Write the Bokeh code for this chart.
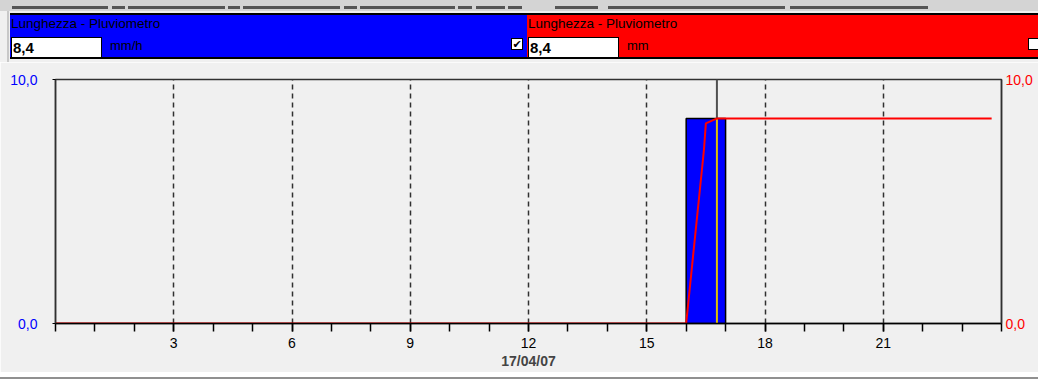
from bokeh.plotting import figure
from bokeh.layouts import column
from bokeh.models import Range1d, LinearAxis, FixedTicker, Div
from bokeh.embed import file_html
from bokeh.resources import INLINE

# ---------------- data ----------------
hour_start = [16.0]
hour_end = [17.0]
rain_rate = [8.4]  # mm/h

cum_time = [0.0, 16.0, 16.45, 16.50, 16.77, 23.75]
cum_rain = [0.0, 0.0, 7.1, 8.2, 8.4, 8.4]  # mm

cursor_time = [16.78]
cursor_value = [8.4]

x_major = [3, 6, 9, 12, 15, 18, 21]
x_minor = list(range(0, 25))
y_ticks = [0, 10]
y_labels = {0: "0,0", 10: "10,0"}
date_label = "17/04/07"

header_title = "Lunghezza - Pluviometro"
header_value = "8,4"
left_unit = "mm/h"
right_unit = "mm"

BG = "#f0f0f0"
FONT = "Liberation Sans"
W = 1038


# ---------------- header (HTML) ----------------
def panel(left, width, color, unit, checked):
    check = "&#10004;" if checked else ""
    return f"""
<div style="position:absolute;left:{left}px;top:13px;width:{width}px;height:46px;background:{color};
 border-top:2px solid #000;border-bottom:2px solid #000;overflow:hidden;">
  <div style="position:absolute;left:1px;top:1px;font:13.5px '{FONT}';color:#000;white-space:nowrap;">{header_title}</div>
  <div style="position:absolute;left:1px;top:22px;width:88px;height:19px;background:#fff;border:1px solid #000;
   font:bold 15px '{FONT}';color:#000;line-height:19px;padding-left:1px;box-sizing:content-box;">{header_value}</div>
  <div style="position:absolute;left:100px;top:23px;font:13px '{FONT}';color:#000;">{unit}</div>
  <div style="position:absolute;left:{width - 16 if checked else 501}px;top:23px;width:12px;height:12px;background:#fff;border:1px solid #000;
   font:11px 'DejaVu Sans';color:#000;line-height:12px;text-align:center;">{check}</div>
</div>"""


tabs = "".join(
    f'<div style="position:absolute;left:{a}px;top:6px;width:{b - a}px;height:3px;background:#555;"></div>'
    for a, b in [(12, 108), (112, 125), (128, 225), (228, 240), (243, 340), (344, 357), (360, 455),
                 (458, 472), (476, 505), (508, 522), (555, 598), (608, 785), (790, 928)]
)
header_html = f"""
<div style="position:relative;width:{W}px;height:62px;background:{BG};overflow:hidden;">
  <div style="position:absolute;left:0;top:0;width:{W}px;height:11px;background:#d4d4d4;"></div>
  {tabs}
  <div style="position:absolute;left:7px;top:11px;width:2px;height:51px;background:#c8c8c8;"></div>
  {panel(10, 517, "#0000ff", left_unit, True)}
  {panel(527, 520, "#ff0000", right_unit, False)}
</div>"""
h = Div(text=header_html, width=W, height=62, margin=0)

footer = Div(text=f'<div style="width:{W}px;height:7px;background:#b8b8b8;border-top:2px solid #909090;box-sizing:border-box;"></div>',
             width=W, height=7, margin=0)

# ---------------- main chart ----------------
p = figure(width=W, height=310, x_range=Range1d(0, 24), y_range=Range1d(0, 10),
           output_backend="svg", toolbar_location=None,
           min_border_left=55, min_border_right=37, min_border_top=17, min_border_bottom=49,
           background_fill_color=BG, border_fill_color=BG)
p.extra_y_ranges = {"right": Range1d(0, 10)}
p.outline_line_color = "#303030"
p.outline_line_width = 1.5

# bottom axis
xa = p.xaxis[0]
xa.ticker = FixedTicker(ticks=x_major, minor_ticks=x_minor)
xa.major_label_overrides = {t: str(t) for t in x_major}
xa.axis_line_color = "#000000"
xa.axis_line_width = 1.5
xa.major_tick_out = 8
xa.major_tick_in = 0
xa.minor_tick_out = 8
xa.minor_tick_in = 0
xa.major_tick_line_color = "#000000"
xa.minor_tick_line_color = "#000000"
xa.major_tick_line_width = 1.5
xa.minor_tick_line_width = 1.5
xa.major_label_text_font = FONT
xa.major_label_text_font_size = "14px"
xa.major_label_text_color = "#000000"
xa.major_label_standoff = 6
xa.axis_label = date_label
xa.axis_label_text_font = FONT
xa.axis_label_text_font_style = "bold"
xa.axis_label_text_font_size = "14px"
xa.axis_label_standoff = 2

# left axis
ya = p.yaxis[0]
ya.ticker = FixedTicker(ticks=y_ticks)
ya.major_label_overrides = y_labels
ya.minor_tick_line_color = None
ya.major_tick_out = 3
ya.major_tick_in = 0
ya.major_tick_line_color = "#000000"
ya.axis_line_color = "#303030"
ya.axis_line_width = 1.5
ya.major_label_text_color = "#0000ff"
ya.major_label_text_font = FONT
ya.major_label_text_font_size = "14px"
ya.major_label_standoff = 15

# right axis
ra = LinearAxis(y_range_name="right", ticker=FixedTicker(ticks=y_ticks))
ra.major_label_overrides = y_labels
ra.minor_tick_line_color = None
ra.major_tick_out = 0
ra.major_tick_in = 0
ra.axis_line_color = "#303030"
ra.axis_line_width = 1.5
ra.major_label_text_color = "#ff0000"
ra.major_label_text_font = FONT
ra.major_label_text_font_size = "14px"
ra.major_label_standoff = 4
p.add_layout(ra, "right")

# grid
p.ygrid.visible = False
p.xgrid.ticker = FixedTicker(ticks=x_major)
p.xgrid.grid_line_color = "#303030"
p.xgrid.grid_line_dash = "5 4"
p.xgrid.grid_line_width = 1.5

# rain bar
p.quad(left=hour_start, right=hour_end, bottom=[0] * len(rain_rate), top=rain_rate,
       fill_color="#0000ff", line_color="#000000", line_width=1.5)

# cursor
p.segment(x0=cursor_time, x1=cursor_time, y0=cursor_value, y1=[10] * len(cursor_time),
          line_color="#505050", line_width=2)
p.segment(x0=cursor_time, x1=cursor_time, y0=[0] * len(cursor_time), y1=cursor_value,
          line_color="#e0c000", line_width=2)

# cumulative line
p.line(cum_time, cum_rain, line_color="#ff0000", line_width=2, y_range_name="right")

layout = column(h, p, footer, spacing=0)
open("out.html", "w").write(file_html(layout, INLINE))
